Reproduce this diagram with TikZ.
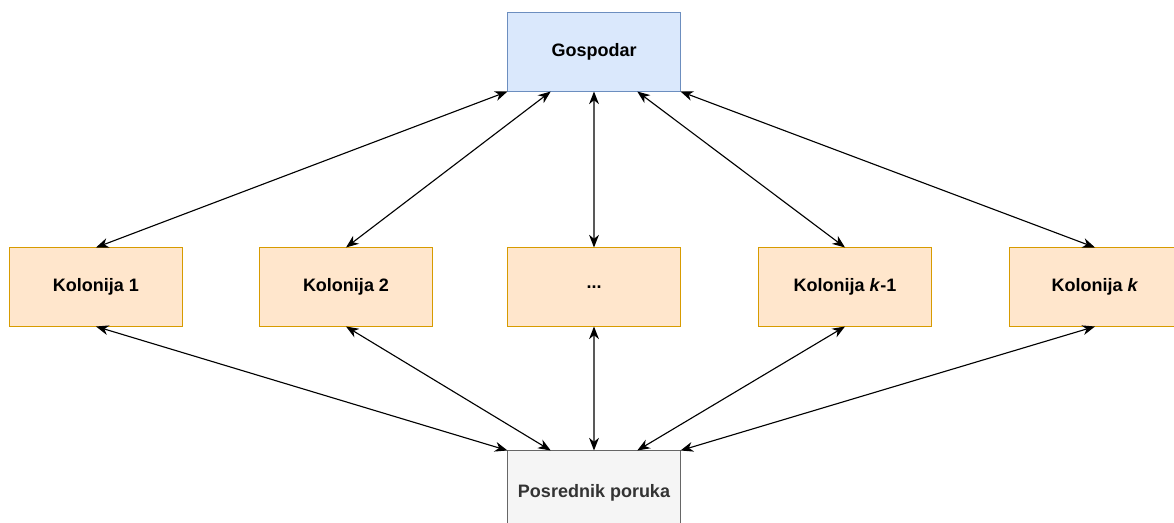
\documentclass[tikz,border=0pt]{standalone}
\usepackage{fontspec}
\setmainfont{Liberation Sans}
\usetikzlibrary{arrows.meta,calc}
\definecolor{gfill}{HTML}{DAE8FC}
\definecolor{gdraw}{HTML}{6C8EBF}
\definecolor{kfill}{HTML}{FFE6CC}
\definecolor{kdraw}{HTML}{D79B00}
\definecolor{pfill}{HTML}{F5F5F5}
\definecolor{pdraw}{HTML}{666666}
\definecolor{ptext}{HTML}{333333}

\begin{document}
\begin{tikzpicture}[x=0.025cm,y=-0.025cm,
  box/.style={draw,line width=0.7pt,minimum width=4.3cm,minimum height=1.95cm,
    font=\fontsize{12.8}{15}\selectfont\bfseries},
  link/.style={<->,>={Stealth[length=9pt,width=7pt,inset=2.8pt]},line width=0.8pt}]
\useasboundingbox (0,0) rectangle (1174,523);
\node[box,fill=gfill,draw=gdraw] (gospodar) at (594,52) {Gospodar};
\node[box,fill=kfill,draw=kdraw] (kol1) at (96,287) {Kolonija 1};
\node[box,fill=kfill,draw=kdraw] (kol2) at (346,287) {Kolonija 2};
\node[box,fill=kfill,draw=kdraw] (kolmid) at (594,287) {...};
\node[box,fill=kfill,draw=kdraw] (kolk1) at (845,287) {Kolonija \textit{k}-1};
\node[box,fill=kfill,draw=kdraw] (kolk) at (1095,287) {Kolonija \textit{k}};
\node[box,fill=pfill,draw=pdraw,text=ptext,minimum height=2.1cm] (posrednik) at (594,493) {Posrednik poruka};
% gospodar <-> kolonije <-> posrednik
\foreach \k/\f in {kol1/0,kol2/0.25,kolmid/0.5,kolk1/0.75,kolk/1} {
  \draw[link] (\k.north) -- ($(gospodar.south west)!\f!(gospodar.south east)$);
  \draw[link] (\k.south) -- ($(posrednik.north west)!\f!(posrednik.north east)$);
}
\end{tikzpicture}
\end{document}
